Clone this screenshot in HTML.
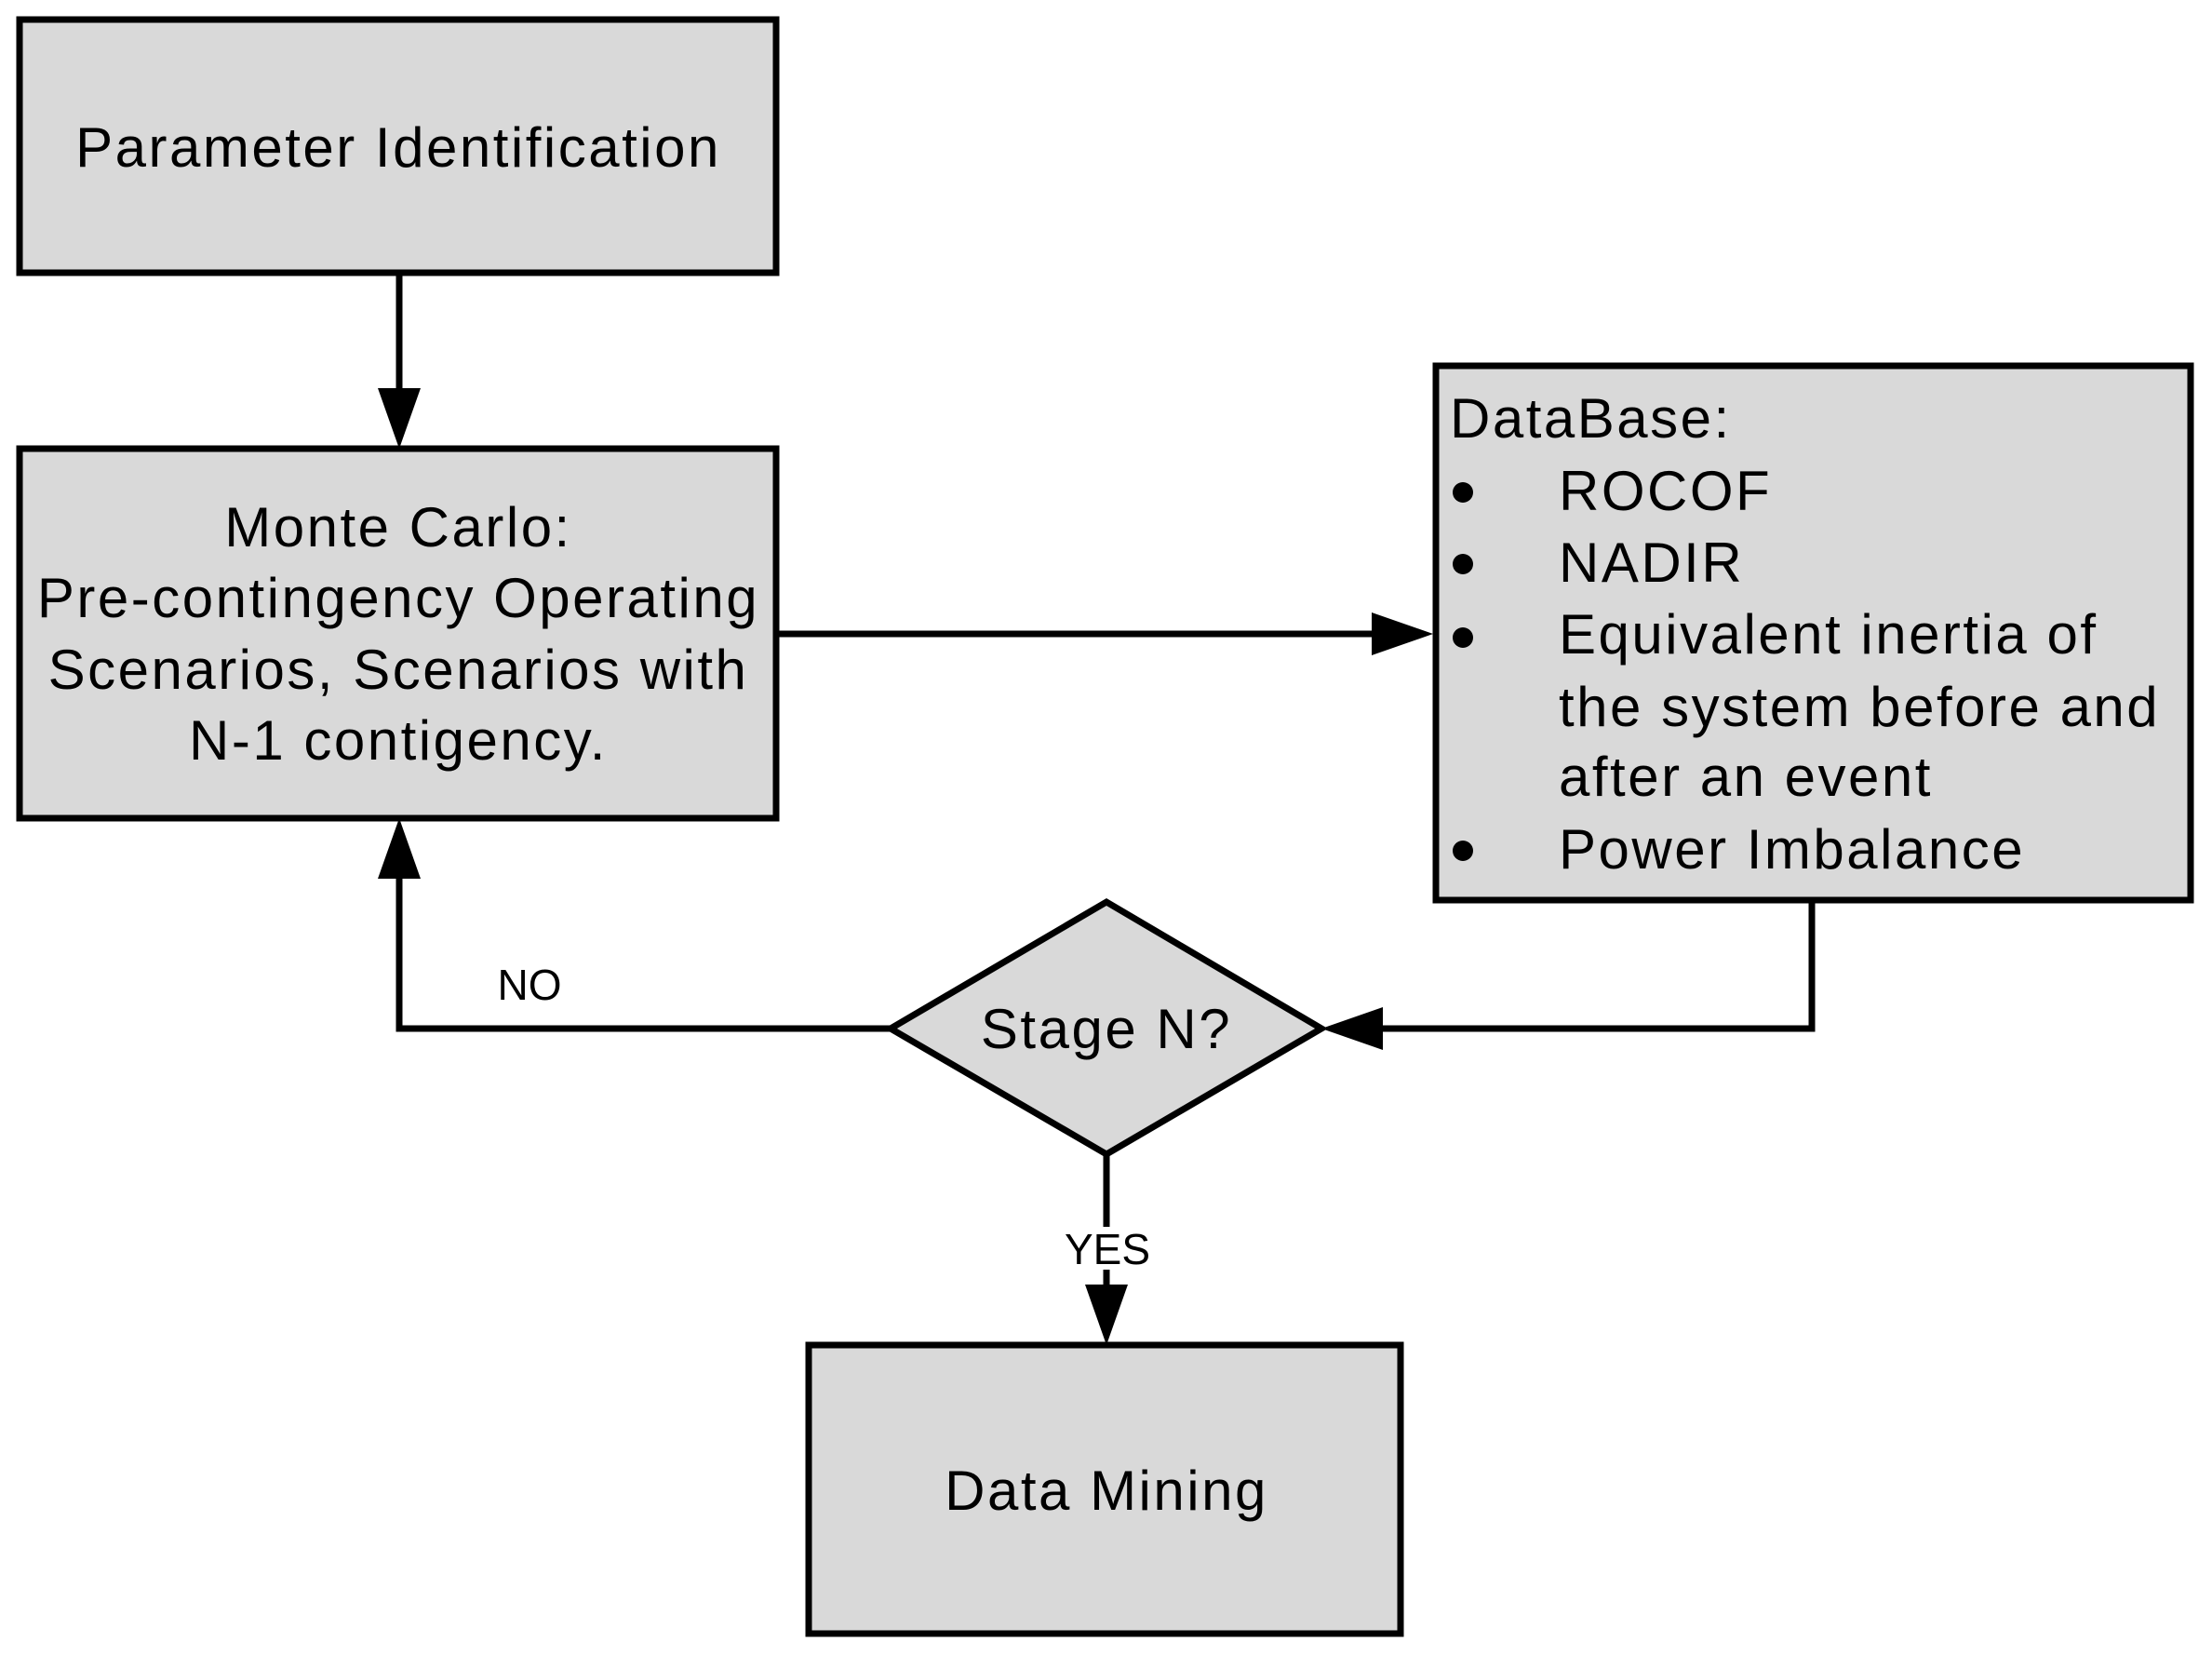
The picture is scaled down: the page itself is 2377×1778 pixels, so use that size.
<!DOCTYPE html>
<html><head><meta charset="utf-8"><style>
html,body{margin:0;padding:0;background:#fff;}
svg text{font-family:"Liberation Sans",Arial,sans-serif;fill:#000;}
</style></head><body>
<svg width="2377" height="1773" viewBox="0 0 2377 1773" xmlns="http://www.w3.org/2000/svg">
<g stroke="#000" stroke-width="7" fill="#d9d9d9">
<rect x="21" y="21" width="813" height="272"/>
<rect x="21" y="482" width="813" height="397"/>
<rect x="1543" y="393" width="811" height="574"/>
<polygon points="957,1105 1189,969 1420,1105 1189,1240"/>
<rect x="869" y="1445" width="636" height="310"/>
</g>
<g stroke="#000" stroke-width="7" fill="none">
<line x1="429" y1="293" x2="429" y2="425"/>
<line x1="834" y1="681" x2="1480" y2="681"/>
<polyline points="1947,967 1947,1105 1480,1105"/>
<polyline points="957,1105 429,1105 429,940"/>
<line x1="1189" y1="1240" x2="1189" y2="1390"/>
</g>
<g fill="#000">
<polygon points="406,417 452,417 429,482"/>
<polygon points="1474,658 1474,704 1540,681"/>
<polygon points="1486,1082 1486,1128 1420,1105"/>
<polygon points="406,944 452,944 429,879"/>
<polygon points="1166,1380 1212,1380 1189,1445"/>
<circle cx="1572" cy="529" r="11"/>
<circle cx="1572" cy="606" r="11"/>
<circle cx="1572" cy="685" r="11"/>
<circle cx="1572" cy="914" r="11"/>
</g>
<g font-size="60" letter-spacing="2.5">
<text x="428" y="179" text-anchor="middle">Parameter Identification</text>
<text x="428" y="587" text-anchor="middle">Monte Carlo:</text>
<text x="428" y="663" text-anchor="middle">Pre-contingency Operating</text>
<text x="428" y="740" text-anchor="middle">Scenarios, Scenarios with</text>
<text x="428" y="816" text-anchor="middle">N-1 contigency.</text>
<text x="1558" y="470">DataBase:</text>
<text x="1675" y="548">ROCOF</text>
<text x="1675" y="625">NADIR</text>
<text x="1675" y="702">Equivalent inertia of</text>
<text x="1675" y="780">the system before and</text>
<text x="1675" y="855">after an event</text>
<text x="1675" y="933">Power Imbalance</text>
<text x="1189" y="1126" text-anchor="middle">Stage N?</text>
<text x="1189" y="1622" text-anchor="middle">Data Mining</text>
</g>
<g font-size="46">
<rect x="1145" y="1318" width="90" height="46" fill="#fff"/>
<text x="569" y="1074" text-anchor="middle">NO</text>
<text x="1190" y="1358" text-anchor="middle">YES</text>
</g>
</svg>
</body></html>
